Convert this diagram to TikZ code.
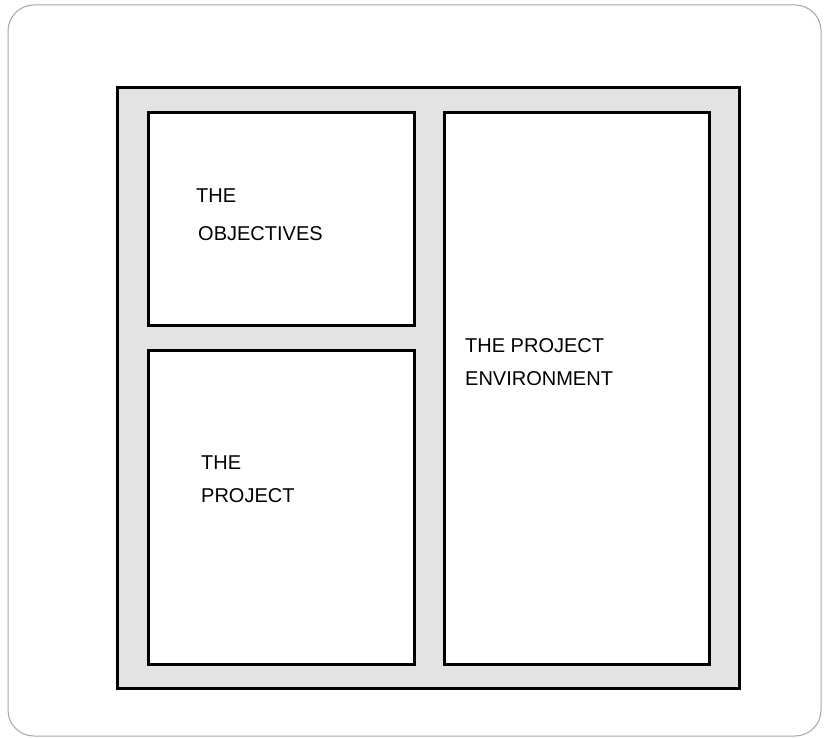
\documentclass[tikz,border=0pt]{standalone}
\usepackage{fontspec}
\setmainfont{Liberation Sans}
\begin{document}
\begin{tikzpicture}[x=1pt,y=-1pt,
  panel/.style={draw=black,line width=2.6pt,fill=white,inner sep=0pt,anchor=north west},
  lbl/.style={anchor=base west,inner sep=0pt,font=\fontsize{20}{24}\selectfont}]
\useasboundingbox (0,0) rectangle (832,738);
\draw[gray!70,line width=1pt,rounded corners=26pt] (8,5) rectangle (821,736);
\node[panel,fill=gray!22,minimum width=622pt,minimum height=601pt] (frame) at (116,86) {};
\node[panel,minimum width=266pt,minimum height=213pt] (obj) at (147,111) {};
\node[panel,minimum width=266pt,minimum height=314pt] (proj) at (147,349) {};
\node[panel,minimum width=265pt,minimum height=552pt] (env) at (443,111) {};
\node[lbl] (o1) at (196,203) {THE};
\node[lbl] (o2) at (198,240) {OBJECTIVES};
\node[lbl] (p1) at (201,469) {THE};
\node[lbl] (p2) at (201,502) {PROJECT};
\node[lbl] (e1) at (465,352) {THE PROJECT};
\node[lbl] (e2) at (465,385) {ENVIRONMENT};
\end{tikzpicture}
\end{document}
